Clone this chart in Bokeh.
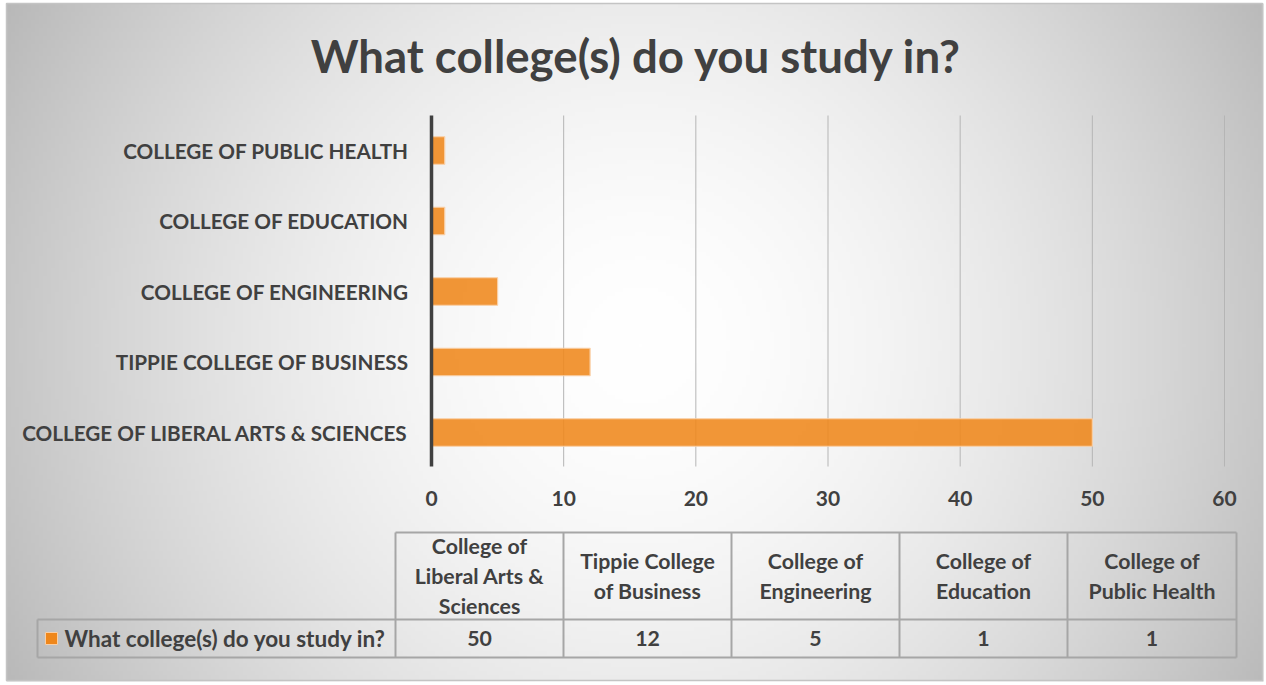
import textwrap
import numpy as np
from bokeh.plotting import figure
from bokeh.models import Range1d
from bokeh.core.properties import value
from bokeh.embed import file_html
from bokeh.resources import INLINE

# ---------------- data ----------------
title_text = "What college(s) do you study in?"
series_name = "What college(s) do you study in?"
categories = [
    "College of Liberal Arts & Sciences",
    "Tippie College of Business",
    "College of Engineering",
    "College of Education",
    "College of Public Health",
]
counts = [50, 12, 5, 1, 1]
x_ticks = [0, 10, 20, 30, 40, 50, 60]

# ---------------- layout helpers (canvas pixels -> data units) ----------------
W, H = 1264, 683
X_ZERO_PX = 431          # x pixel of value 0
X_SIXTY_PX = 1224        # x pixel of value 60
SX = (X_SIXTY_PX - X_ZERO_PX) / 60.0
ROW0_PX = 432            # y pixel of first category centre
ROW_STEP = 70.5          # px between category rows


def fx(px):
    return (px - X_ZERO_PX) / SX


def fy(py):
    return (ROW0_PX - py) / ROW_STEP


x_start, x_end = fx(0), fx(W)
y_start, y_end = fy(H), fy(0)

p = figure(width=W, height=H, output_backend="svg", toolbar_location=None,
           x_axis_type=None, y_axis_type=None,
           x_range=Range1d(x_start, x_end), y_range=Range1d(y_start, y_end),
           min_border=0, min_border_left=0, min_border_right=0,
           min_border_top=0, min_border_bottom=0)
p.outline_line_color = None
p.background_fill_color = "white"
p.border_fill_color = "white"
p.xgrid.visible = False
p.ygrid.visible = False

# ---------------- radial gradient background inside chart area ----------------
CL, CT, CR, CB = 6, 3, 1262, 680
step = 4
hh, ww = (CB - CT) // step + 1, (CR - CL) // step + 1
yy, xx = np.mgrid[0:hh, 0:ww]
cxp = CL + xx * step + step / 2.0
cyp = CT + yy * step + step / 2.0
dist = np.sqrt((cxp - 640) ** 2 + (cyp - 345) ** 2) / 640.0
g = np.clip(255 - 58 * dist ** 1.7, 170, 255).astype(np.uint8)
img = np.empty((hh, ww), dtype=np.uint32)
view = img.view(dtype=np.uint8).reshape((hh, ww, 4))
view[:, :, 0] = g
view[:, :, 1] = g
view[:, :, 2] = g
view[:, :, 3] = 255
img = np.flipud(img)
p.image_rgba(image=[img], x=fx(CL), y=fy(CT + hh * step),
             dw=(ww * step) / SX, dh=(hh * step) / ROW_STEP)
# chart area border
p.quad(left=[fx(CL)], right=[fx(CR)], top=[fy(CT)], bottom=[fy(CB)],
       fill_color=None, line_color="#c4c4c4", line_width=1.5)
# white outside the chart area (cover image overflow)
p.quad(left=[fx(CR + 1), fx(0)], right=[fx(W), fx(W)], top=[fy(0), fy(CB + 1)],
       bottom=[fy(H), fy(H)], fill_color="white", line_color=None)

FONT = value("Lato")
TXT = "#404040"

# ---------------- gridlines ----------------
grid_x = [t for t in x_ticks if t != 0]
p.segment(x0=grid_x, x1=grid_x, y0=[fy(466)] * len(grid_x), y1=[fy(115)] * len(grid_x),
          line_color="#b5b5b5", line_width=1)

# ---------------- bars ----------------
ypos = list(range(len(categories)))
p.hbar(y=ypos, left=0, right=counts, height=0.39,
       fill_color="#EF871B", fill_alpha=0.88,
       line_color="#F9CFA6", line_width=1.2)

# zero axis line
p.segment(x0=[0], x1=[0], y0=[fy(466)], y1=[fy(115)], line_color="#404040", line_width=3.5)

# category labels
p.text(x=[fx(408)] * len(categories), y=ypos, text=[c.upper() for c in categories],
       text_align="right", text_baseline="middle", text_font=FONT,
       text_font_style="bold", text_font_size="20.7px", text_color=TXT)

# x tick labels
p.text(x=x_ticks, y=[fy(498)] * len(x_ticks), text=[str(t) for t in x_ticks],
       text_align="center", text_baseline="middle", text_font=FONT,
       text_font_style="bold", text_font_size="21px", text_color=TXT)

# title
p.text(x=[fx(636)], y=[fy(55)], text=[title_text], text_align="center",
       text_baseline="middle", text_font=FONT, text_font_style="bold",
       text_font_size="45.6px", text_color=TXT)

# ---------------- data table ----------------
col_edges_px = [395, 563, 731, 899, 1067, 1236]
col_edges = [fx(v) for v in col_edges_px]
col_centers = [(col_edges[i] + col_edges[i + 1]) / 2 for i in range(len(categories))]
top_y, mid_y, bot_y = fy(532), fy(619), fy(657)
leg_left = fx(37)
LINE = "#a6a6a6"

p.segment(x0=[col_edges[0], leg_left, leg_left], x1=[col_edges[-1]] * 3,
          y0=[top_y, mid_y, bot_y], y1=[top_y, mid_y, bot_y],
          line_color=LINE, line_width=2)
p.segment(x0=col_edges, x1=col_edges, y0=[top_y] * len(col_edges), y1=[bot_y] * len(col_edges),
          line_color=LINE, line_width=2)
p.segment(x0=[leg_left], x1=[leg_left], y0=[mid_y], y1=[bot_y], line_color=LINE, line_width=2)

headers = [textwrap.fill(c, 14) for c in categories]
p.text(x=col_centers, y=[(top_y + mid_y) / 2] * len(categories), text=headers,
       text_align="center", text_baseline="middle", text_font=FONT,
       text_font_style="bold", text_font_size="21.3px", text_color=TXT,
       text_line_height=1.16)
p.text(x=col_centers, y=[(mid_y + bot_y) / 2] * len(categories), text=[str(c) for c in counts],
       text_align="center", text_baseline="middle", text_font=FONT,
       text_font_style="bold", text_font_size="21.3px", text_color=TXT)

# legend key in the table
p.scatter(x=[fx(51)], y=[(mid_y + bot_y) / 2], marker="square", size=12,
          fill_color="#EF871B", line_color="#F9CFA6", line_width=1)
p.text(x=[fx(64)], y=[(mid_y + bot_y) / 2], text=[series_name], text_align="left",
       text_baseline="middle", text_font=FONT, text_font_style="bold",
       text_font_size="22.5px", text_color=TXT)

open("out.html", "w").write(file_html(p, INLINE))
